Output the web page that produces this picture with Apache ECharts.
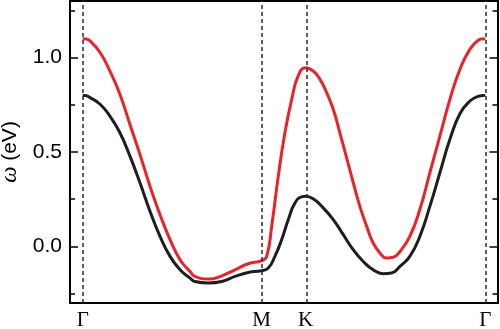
<!DOCTYPE html>
<html>
<head>
<meta charset="utf-8">
<script src="https://cdn.jsdelivr.net/npm/echarts@6/dist/echarts.min.js"></script>
<style>html,body{margin:0;padding:0;background:#fff}#c{width:500px;height:329px}</style>
</head>
<body>
<div id="c"></div>
<script>
// k-path positions (arbitrary units, Γ=0)
const symmetryK = [0, 1.0, 1.246, 2.25];
const symmetryLabels = ['Γ', 'M', 'K', 'Γ'];

const redK = [0, 0.015, 0.041, 0.097, 0.152, 0.208, 0.264, 0.320, 0.376, 0.432, 0.488,
  0.544, 0.600, 0.627, 0.702, 0.777, 0.851, 0.925, 1.000, 1.028, 1.056,
  1.093, 1.130, 1.168, 1.204, 1.246, 1.288, 1.326, 1.363, 1.400, 1.437,
  1.475, 1.512, 1.549, 1.587, 1.623, 1.661, 1.698, 1.735, 1.773, 1.828,
  1.884, 1.940, 1.996, 2.052, 2.108, 2.164, 2.210, 2.235, 2.25];
const redBand = [1.10, 1.099, 1.089, 1.027, 0.929, 0.806, 0.646, 0.487, 0.319, 0.168, 0.036,
  -0.071, -0.133, -0.159, -0.173, -0.156, -0.124, -0.092, -0.076, -0.053, 0.106,
  0.372, 0.602, 0.779, 0.903, 0.947, 0.929, 0.885, 0.815, 0.726, 0.602,
  0.469, 0.337, 0.212, 0.106, 0.018, -0.035, -0.062, -0.058, -0.027, 0.053,
  0.195, 0.390, 0.584, 0.779, 0.938, 1.045, 1.092, 1.099, 1.10];

const blackK = [0, 0.015, 0.041, 0.097, 0.152, 0.208, 0.264, 0.320, 0.376, 0.432, 0.488, 0.544,
  0.600, 0.627, 0.702, 0.777, 0.851, 0.925, 1.000, 1.037, 1.074, 1.112,
  1.149, 1.186, 1.223, 1.246, 1.288, 1.344, 1.400, 1.456, 1.512, 1.568,
  1.623, 1.679, 1.726, 1.773, 1.828, 1.884, 1.940, 1.996, 2.052, 2.108,
  2.164, 2.210, 2.235, 2.25];
const blackBand = [0.80, 0.799, 0.788, 0.753, 0.690, 0.602, 0.478, 0.337, 0.186, 0.053, -0.053, -0.124,
  -0.168, -0.186, -0.194, -0.186, -0.159, -0.138, -0.129, -0.115, -0.053, 0.036,
  0.142, 0.230, 0.262, 0.265, 0.252, 0.204, 0.142, 0.062, -0.018, -0.080,
  -0.124, -0.145, -0.141, -0.106, -0.053, 0.053, 0.212, 0.390, 0.567, 0.703,
  0.770, 0.795, 0.799, 0.80];

const yMajorTicks = [0, 0.5, 1.0];
const yMinorTicks = [-0.25, 0.25, 0.75, 1.25];

const pairs = (ks, vs) => ks.map((k, i) => [k, vs[i]]);

const chart = echarts.init(document.getElementById('c'), null, {renderer: 'canvas'});
const axisLine = {show: true, onZero: false, lineStyle: {color: '#000', width: 2}};
const yBase = {type: 'value', min: -0.3, max: 1.3, splitLine: {show: false}, axisLine: axisLine};
const tickStyle = {color: '#000', width: 1.5};

chart.setOption({
  animation: false,
  grid: {left: 70, right: 2.5, top: 1, bottom: 26, show: false, containLabel: false, outerBoundsMode: 'none'},
  xAxis: [{
    type: 'value', min: -0.071, max: 2.318, axisLine: axisLine,
    splitLine: {show: false}, axisTick: {show: false},
    axisLabel: {
      customValues: symmetryK, margin: 7,
      formatter: v => { const i = symmetryK.indexOf(v); return i >= 0 ? symmetryLabels[i] : ''; },
      fontFamily: 'Liberation Serif', fontSize: 21, color: '#000'
    }
  }, {
    type: 'value', position: 'top', min: -0.071, max: 2.318, axisLine: axisLine,
    splitLine: {show: false}, axisTick: {show: false}, axisLabel: {show: false}
  }],
  yAxis: [
    Object.assign({}, yBase, {
      position: 'left',
      name: '{w|ω} (eV)', nameLocation: 'middle', nameGap: 47, nameRotate: 90,
      nameTextStyle: {fontFamily: 'Liberation Sans', fontSize: 21, color: '#000',
        rich: {w: {fontFamily: 'Liberation Serif', fontStyle: 'italic', fontSize: 23, color: '#000'}}},
      axisTick: {show: true, inside: true, length: 8, customValues: yMajorTicks, lineStyle: tickStyle},
      axisLabel: {customValues: yMajorTicks, formatter: v => v.toFixed(1), margin: 8,
        fontFamily: 'Liberation Sans', fontSize: 21, color: '#000'}
    }),
    Object.assign({}, yBase, {
      position: 'left',
      axisTick: {show: true, inside: true, length: 5, customValues: yMinorTicks, lineStyle: tickStyle},
      axisLabel: {show: false}
    }),
    Object.assign({}, yBase, {
      position: 'right',
      axisTick: {show: true, inside: true, length: 8, customValues: yMajorTicks, lineStyle: tickStyle},
      axisLabel: {show: false}
    }),
    Object.assign({}, yBase, {
      position: 'right',
      axisTick: {show: true, inside: true, length: 5, customValues: yMinorTicks, lineStyle: tickStyle},
      axisLabel: {show: false}
    })
  ],
  series: [
    {
      type: 'line', data: pairs(blackK, blackBand), smooth: 0.5, showSymbol: false,
      lineStyle: {color: '#1e1e1e', width: 3}, z: 3,
      markLine: {
        silent: true, symbol: ['none', 'none'], label: {show: false},
        lineStyle: {color: '#2a2a2a', type: [4, 3], width: 1.5},
        data: symmetryK.map(k => ({xAxis: k}))
      }
    },
    {
      type: 'line', data: pairs(redK, redBand), smooth: 0.5, showSymbol: false,
      lineStyle: {color: '#e8242a', width: 3}, z: 4
    }
  ]
});
</script>
</body>
</html>
